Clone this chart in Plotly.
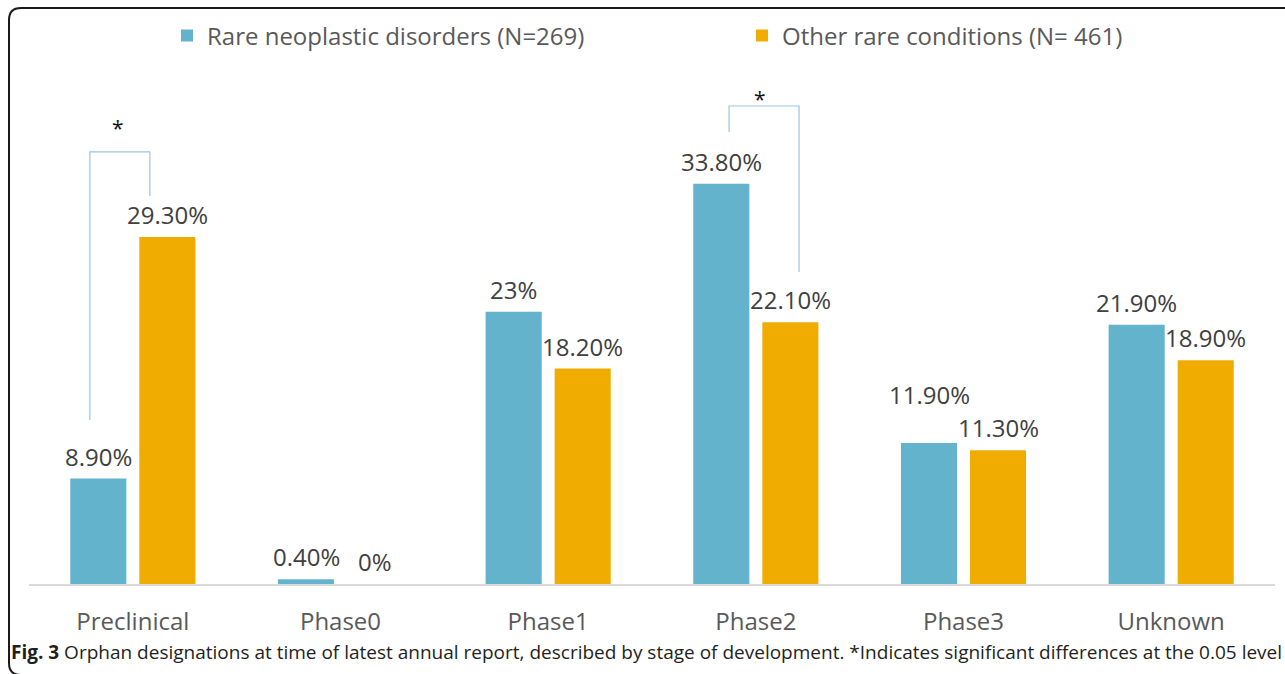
import plotly.graph_objects as go

categories = ["Preclinical", "Phase0", "Phase1", "Phase2", "Phase3", "Unknown"]
neoplastic = [8.9, 0.4, 23.0, 33.8, 11.9, 21.9]
other = [29.3, 0.0, 18.2, 22.1, 11.3, 18.9]
neoplastic_labels = ["8.90%", "0.40%", "23%", "33.80%", "11.90%", "21.90%"]
other_labels = ["29.30%", "0%", "18.20%", "22.10%", "11.30%", "18.90%"]
series_names = ["Rare neoplastic disorders (N=269)", "Other rare conditions (N= 461)"]
caption = ("<b>Fig. 3</b> Orphan designations at time of latest annual report, described by stage of "
           "development. *Indicates significant differences at the 0.05 level")

BLUE = "#62B3CB"
ORANGE = "#F0AC00"
FONT = "Open Sans"
LABEL_COLOR = "#404040"

W, H = 1285, 674
L, R, T, B = 29, 10, 92, 90
pw, ph = W - L - R, H - T - B
PX_PER_UNIT = 11.84
def px(xp):
    return (xp - L) / pw
def py(yp):
    return 1 - (yp - T) / ph

fig = go.Figure()
fig.add_trace(go.Bar(x=categories, y=neoplastic, name=series_names[0], showlegend=True,
                     marker_color=BLUE, marker_line_width=0, legend="legend"))
fig.add_trace(go.Bar(x=categories, y=other, name=series_names[1], showlegend=True,
                     marker_color=ORANGE, marker_line_width=0, legend="legend2"))

annotations = []
# value labels (centred above each bar; one lifted to avoid overlap, as in the original)
half_slot = 34.5
for c, v, lab in zip(categories, neoplastic, neoplastic_labels):
    lift = 26 if lab == "11.90%" else 0
    annotations.append(dict(x=c, y=v, xref="x", yref="y", text=lab, showarrow=False,
                            xshift=-half_slot, yshift=4 + lift, yanchor="bottom",
                            font=dict(size=24, color=LABEL_COLOR, family=FONT)))
for c, v, lab in zip(categories, other, other_labels):
    annotations.append(dict(x=c, y=v, xref="x", yref="y", text=lab, showarrow=False,
                            xshift=half_slot, yshift=4, yanchor="bottom",
                            font=dict(size=24, color=LABEL_COLOR, family=FONT)))

bracket_color = "#9DC3E6"
shapes = [
    dict(type="path", xref="x", yref="y",
         path="M -0.207,13.85 L -0.207,36.49 L 0.082,36.49 L 0.082,32.77",
         line=dict(color=bracket_color, width=1.2)),
    dict(type="path", xref="x", yref="y",
         path="M 2.871,38.18 L 2.871,40.37 L 3.208,40.37 L 3.208,26.35",
         line=dict(color=bracket_color, width=1.2)),
]
# rounded frame (right and bottom edges lie just outside the picture)
x0, yt, yb = px(9), py(8), py(675)
rx, ry = 12 / pw, 12 / ph
frame = (f"M 1.05,{yt} L {x0+rx},{yt} Q {x0},{yt} {x0},{yt-ry} "
         f"L {x0},{yb+ry} Q {x0},{yb} {x0+rx},{yb} L 1.05,{yb}")
shapes.append(dict(type="path", xref="paper", yref="paper", path=frame,
                   line=dict(color="#1a1a1a", width=2)))

annotations += [
    dict(x=-0.072, y=38.5, xref="x", yref="y", text="*", showarrow=False,
         font=dict(size=21, color="#111111", family=FONT)),
    dict(x=3.02, y=41.0, xref="x", yref="y", text="*", showarrow=False,
         font=dict(size=21, color="#111111", family=FONT)),
    dict(x=px(9), y=py(652), xref="paper", yref="paper", xanchor="left", yanchor="middle",
         text=caption, showarrow=False, font=dict(size=19, color="#231f20", family=FONT)),
]

legend_font = dict(size=24, color="#595959", family=FONT)
fig.update_layout(
    width=W, height=H,
    margin=dict(l=L, r=R, t=T, b=B, autoexpand=False),
    paper_bgcolor="white", plot_bgcolor="white",
    showlegend=True,
    barmode="group", bargap=0.335, bargroupgap=0.188,
    font=dict(family=FONT, color="#595959"),
    legend=dict(orientation="h", x=px(167), y=py(36), xanchor="left", yanchor="middle",
                font=legend_font, bgcolor="rgba(0,0,0,0)"),
    legend2=dict(orientation="h", x=px(742), y=py(36), xanchor="left", yanchor="middle",
                 font=legend_font, bgcolor="rgba(0,0,0,0)"),
    xaxis=dict(range=[-0.5, 5.5], showline=True, linecolor="#D9D9D9", linewidth=1.5,
               ticks="", tickfont=dict(size=24, color="#595959", family=FONT),
               ticklabelstandoff=15, showgrid=False, zeroline=False, fixedrange=True,
               automargin=False),
    yaxis=dict(range=[0, (584 - T) / PX_PER_UNIT], visible=False, showgrid=False,
               zeroline=False, fixedrange=True, automargin=False),
    shapes=shapes, annotations=annotations,
)

fig.write_html("out.html", config={"displayModeBar": False},
               post_script="document.body.style.margin='0';document.body.style.overflow='hidden';")
